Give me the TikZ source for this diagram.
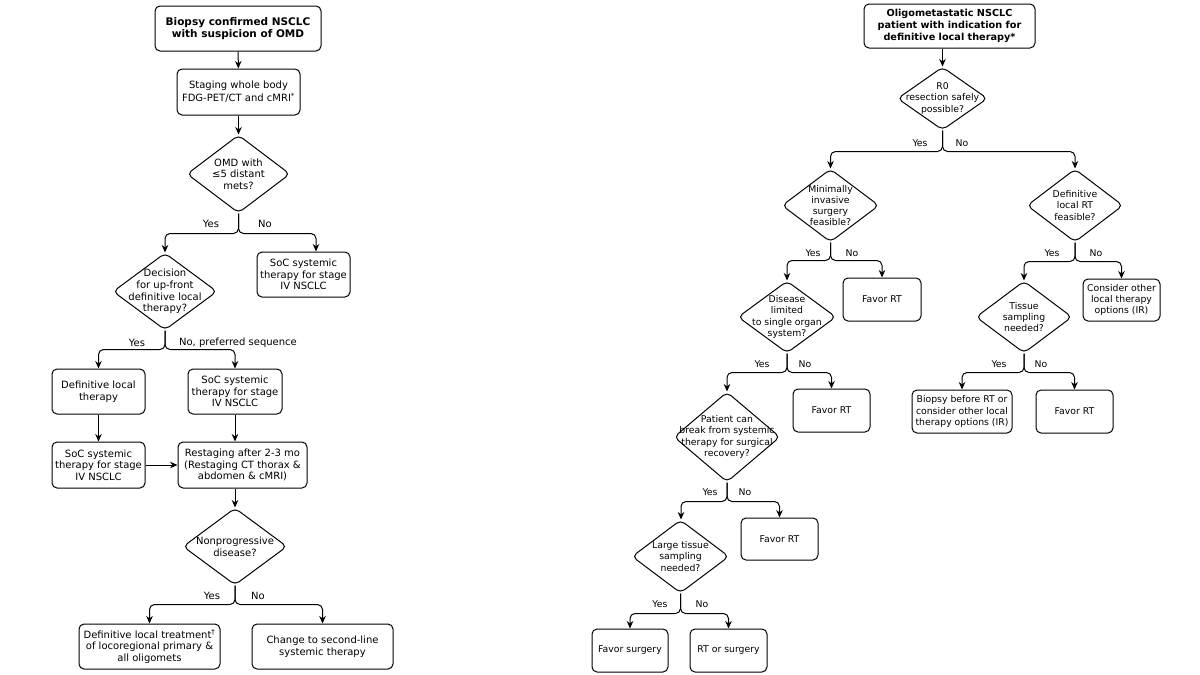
\documentclass[tikz,border=0pt]{standalone}
\usepackage{fontspec}
\setmainfont{DejaVu Sans}
\usetikzlibrary{shapes.geometric,arrows.meta}
\newcommand{\lfont}{\fontsize{10}{11.7}\selectfont}
\newcommand{\rfont}{\fontsize{9.3}{11.3}\selectfont}
\begin{document}
\begin{tikzpicture}[x=1pt,y=-1pt,
  box/.style={draw, rounded corners=5pt, line width=1pt, align=center, inner sep=1pt},
  lbox/.style={box, font=\lfont},
  rbox/.style={box, font=\rfont},
  dia/.style={draw, diamond, rounded corners=5pt, line width=1pt, inner sep=0pt},
  ldia/.style={dia, label={[align=center,font=\lfont]center:#1}},
  rdia/.style={dia, label={[align=center,font=\rfont]center:#1}},
  ltag/.style={font=\lfont, inner sep=0pt},
  rtag/.style={font=\rfont, inner sep=0pt},
  arr/.style={line width=1pt, rounded corners=5pt, -{Stealth[length=7.5pt,width=6.5pt]}}
]
\useasboundingbox[fill=white] (0,0) rectangle (1200,675);

% ---------------- left chart ----------------
\node[box, font=\fontsize{10.5}{12.5}\selectfont\bfseries, minimum width=166, minimum height=45] (b1) at (238,28.5) {Biopsy confirmed NSCLC\\with suspicion of OMD};
\node[lbox, minimum width=123, minimum height=46] (b2) at (238.5,92) {Staging whole body\\[1pt]FDG-PET/CT and cMRI\textsuperscript{*}};
\node[ldia={OMD with\\≤5 distant\\mets?}, minimum width=103, minimum height=78] (d1) at (238.5,174) {};
\node[ltag] (y1) at (211,224) {Yes};
\node[ltag] (n1) at (265,224) {No};
\node[lbox, minimum width=93, minimum height=45] (b3) at (303.5,274.5) {SoC systemic\\therapy for stage\\IV NSCLC};
\node[ldia={Decision\\for up-front\\definitive local\\therapy?}, minimum width=104, minimum height=77] (d2) at (165,291.5) {};
\node[ltag] (y2) at (137,343) {Yes};
\node[ltag] (n2) at (238,343) {No, preferred sequence};
\node[lbox, minimum width=93, minimum height=45] (b4) at (98.5,391.5) {Definitive local\\therapy};
\node[lbox, minimum width=94, minimum height=45] (b5) at (235,391.5) {SoC systemic\\therapy for stage\\IV NSCLC};
\node[lbox, minimum width=93, minimum height=46] (b6) at (98.5,465) {SoC systemic\\therapy for stage\\IV NSCLC};
\node[lbox, minimum width=129, minimum height=46] (b7) at (242.5,465) {Restaging after 2-3 mo\\(Restaging CT thorax \&\\abdomen \& cMRI)};
\node[ldia={Nonprogressive\\disease?}, minimum width=104, minimum height=77] (d3) at (235,546.5) {};
\node[ltag] (y3) at (212,596) {Yes};
\node[ltag] (n3) at (258,596) {No};
\node[lbox, minimum width=141, minimum height=45] (b8) at (149.5,646.5) {Definitive local treatment\textsuperscript{†}\\of locoregional primary \&\\all oligomets};
\node[lbox, minimum width=141, minimum height=45] (b9) at (322.5,646.5) {Change to second-line\\systemic therapy};

\draw[arr] (b1) -- (b2);
\draw[arr] (b2) -- (d1);
\draw[arr] (d1.south) -- ++(0,20) -| (d2.north);
\draw[arr] (d1.south) -- ++(0,20) -| ([xshift=12.5]b3.north);
\draw[arr] (d2.south) -- ++(0,19) -| (b4.north);
\draw[arr] (d2.south) -- ++(0,19) -| (b5.north);
\draw[arr] (b4) -- (b6);
\draw[arr] (b5.south) -- (b5.south |- b7.north);
\draw[arr] (b6) -- (b7);
\draw[arr] (b5.south |- b7.south) -- (d3.north);
\draw[arr] (d3.south) -- ++(0,19) -| (b8.north);
\draw[arr] (d3.south) -- ++(0,19) -| (b9.north);

% ---------------- right chart ----------------
\node[box, font=\fontsize{9.7}{12}\selectfont\bfseries, minimum width=171, minimum height=44] (t1) at (949.5,26) {Oligometastatic NSCLC\\patient with indication for\\definitive local therapy*};
\node[rdia={R0\\resection safely\\possible?}, minimum width=90, minimum height=63] (r0) at (942.5,98.5) {};
\node[rtag] (y4) at (920,143) {Yes};
\node[rtag] (n4) at (962,143) {No};
\node[rdia={Minimally\\invasive\\surgery\\feasible?}, minimum width=97, minimum height=73] (m1) at (830.5,205.5) {};
\node[rtag] (y5) at (813,253) {Yes};
\node[rtag] (n5) at (852,253) {No};
\node[rbox, minimum width=78, minimum height=43] (fr1) at (882,299.5) {Favor RT};
\node[rdia={Disease\\limited\\to single organ\\system?}, minimum width=98, minimum height=72] (dl) at (787,317) {};
\node[rtag] (y6) at (762,364) {Yes};
\node[rtag] (n6) at (805,364) {No};
\node[rbox, minimum width=77, minimum height=43] (fr2) at (831.5,410.5) {Favor RT};
\node[rdia={Patient can\\break from systemic\\therapy for surgical\\recovery?}, minimum width=106, minimum height=90] (pc) at (727,437) {};
\node[rtag] (y7) at (710,492) {Yes};
\node[rtag] (n7) at (745,492) {No};
\node[rbox, minimum width=77, minimum height=42] (fr3) at (779.5,539) {Favor RT};
\node[rdia={Large tissue\\sampling\\needed?}, minimum width=97, minimum height=73] (lt) at (680.5,556.5) {};
\node[rtag] (y8) at (660,604) {Yes};
\node[rtag] (n8) at (702,604) {No};
\node[rbox, minimum width=76, minimum height=43] (fs) at (630,650.5) {Favor surgery};
\node[rbox, minimum width=77, minimum height=43] (rs) at (728.5,650.5) {RT or surgery};

\node[rdia={Definitive\\local RT\\feasible?}, minimum width=96, minimum height=73] (rt) at (1075,205.5) {};
\node[rtag] (y9) at (1052,253) {Yes};
\node[rtag] (n9) at (1096,253) {No};
\node[rbox, minimum width=77, minimum height=42] (co) at (1121.5,300) {Consider other\\local therapy\\options (IR)};
\node[rdia={Tissue\\sampling\\needed?}, minimum width=96, minimum height=72] (ts) at (1024,317) {};
\node[rtag] (y10) at (999,364) {Yes};
\node[rtag] (n10) at (1041,364) {No};
\node[rbox, minimum width=100, minimum height=43] (bb) at (962,411.5) {Biopsy before RT or\\consider other local\\therapy options (IR)};
\node[rbox, minimum width=77, minimum height=43] (fr4) at (1074.5,411.5) {Favor RT};

\draw[arr] (r0.north |- t1.south) -- (r0.north);
\draw[arr] (r0.south) -- ++(0,21) -| (m1.north);
\draw[arr] (r0.south) -- ++(0,21) -| (rt.north);
\draw[arr] (m1.south) -- ++(0,18) -| (dl.north);
\draw[arr] (m1.south) -- ++(0,18) -| (fr1.north);
\draw[arr] (dl.south) -- ++(0,19) -| (pc.north);
\draw[arr] (dl.south) -- ++(0,19) -| (fr2.north);
\draw[arr] (pc.south) -- ++(0,19) -| ([xshift=0.5]lt.north);
\draw[arr] (pc.south) -- ++(0,19) -| (fr3.north);
\draw[arr] (lt.south) -- ++(0,20) -| (fs.north);
\draw[arr] (lt.south) -- ++(0,20) -| (rs.north);
\draw[arr] (rt.south) -- ++(0,19) -| (ts.north);
\draw[arr] (rt.south) -- ++(0,19) -| (co.north);
\draw[arr] (ts.south) -- ++(0,19) -| (bb.north);
\draw[arr] (ts.south) -- ++(0,19) -| (fr4.north);
\end{tikzpicture}
\end{document}
